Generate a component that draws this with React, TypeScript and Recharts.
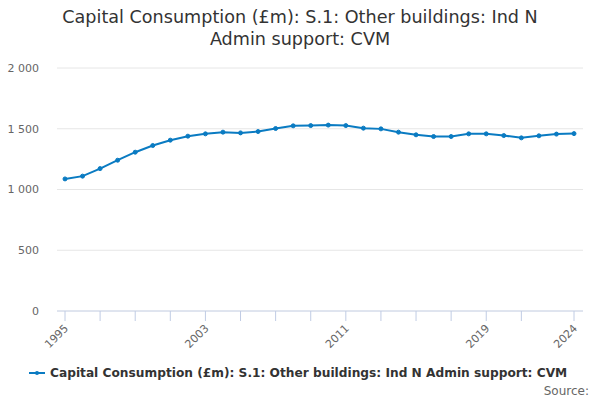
import React from 'react';
import { LineChart, Line, XAxis, YAxis, CartesianGrid } from 'recharts';

const years = [1995,1996,1997,1998,1999,2000,2001,2002,2003,2004,2005,2006,2007,2008,2009,2010,2011,2012,2013,2014,2015,2016,2017,2018,2019,2020,2021,2022,2023,2024];
const values = [1087,1110,1172,1241,1307,1362,1406,1439,1458,1472,1466,1477,1502,1524,1526,1530,1526,1505,1499,1472,1450,1436,1436,1458,1458,1444,1425,1442,1456,1460];
const xTicks = [1995,1997,1999,2001,2003,2005,2007,2009,2011,2013,2015,2017,2019,2021,2024];
const xLabels = [1995,2003,2011,2019,2024];
const yTicks = [0,500,1000,1500,2000];

const seriesName = 'Capital Consumption (£m): S.1: Other buildings: Ind N Admin support: CVM';
const data = years.map((y, i) => ({ year: y, value: values[i] }));

const FONT = '"DejaVu Sans", sans-serif';
const COLOR = '#0a7bc2';

const fmt = (v: number) => {
  const s = String(v);
  return s.length > 3 ? s.slice(0, s.length - 3) + '\u00a0' + s.slice(s.length - 3) : s;
};

const XTick = (props: any) => {
  const { x, y, payload } = props;
  if (!xLabels.includes(payload.value)) return null;
  return (
    <text x={x + 4} y={y + 6} textAnchor="end" fill="#666" fontSize={11} fontFamily={FONT}
      transform={`rotate(-45, ${x + 4}, ${y + 6})`}>
      {payload.value}
    </text>
  );
};

export default function App() {
  return (
    <div style={{ position: 'absolute', left: 0, top: 0, width: 600, height: 400, background: '#fff', fontFamily: FONT }}>
      <div style={{ position: 'absolute', left: 0, top: 6, width: 600, textAlign: 'center', fontSize: 17.6, lineHeight: '22px', color: '#333' }}>
        Capital Consumption (£m): S.1: Other buildings: Ind N<br />Admin support: CVM
      </div>
      <LineChart width={600} height={400} data={data} margin={{ top: 68, right: 17, bottom: 49, left: 0 }}>
        <CartesianGrid vertical={false} stroke="#e6e6e6" />
        <XAxis dataKey="year" type="number" domain={[1995, 2024]} ticks={xTicks} interval={0}
          padding={{ left: 8, right: 9 }} height={40} tickSize={10} tickMargin={2}
          axisLine={{ stroke: '#ccd6eb' }} tickLine={{ stroke: '#c0cce4', strokeWidth: 1 }} tick={<XTick />} />
        <YAxis domain={[0, 2000]} ticks={yTicks} width={57} axisLine={false} tickLine={false}
          tickSize={6} tickMargin={12} tickFormatter={fmt}
          tick={{ fill: '#666', fontSize: 11, fontFamily: FONT }} />
        <Line dataKey="value" stroke={COLOR} strokeWidth={2} isAnimationActive={false}
          dot={{ r: 2, fill: COLOR, stroke: COLOR, strokeWidth: 1 }} />
      </LineChart>
      <div style={{ position: 'absolute', left: 29, top: 366, display: 'flex', alignItems: 'center', fontSize: 12.2, fontWeight: 'bold', color: '#333', whiteSpace: 'nowrap' }}>
        <svg width={16} height={10} style={{ marginRight: 5 }}>
          <line x1={0} y1={5} x2={16} y2={5} stroke={COLOR} strokeWidth={2} />
          <circle cx={8} cy={5} r={2} fill={COLOR} />
        </svg>
        {seriesName}
      </div>
      <div style={{ position: 'absolute', right: 11, top: 384, fontSize: 12, color: '#666' }}>Source:</div>
    </div>
  );
}
